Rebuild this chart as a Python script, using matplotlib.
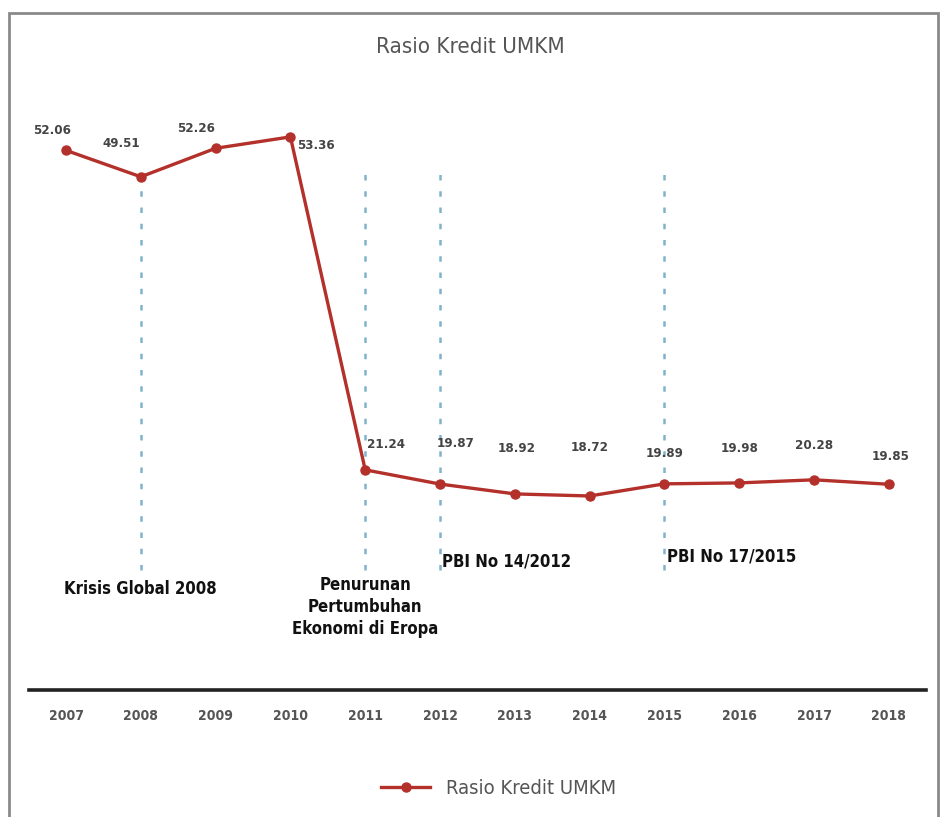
import matplotlib.pyplot as plt
from matplotlib.patches import Rectangle

# Data
years = ["2007", "2008", "2009", "2010", "2011", "2012",
         "2013", "2014", "2015", "2016", "2017", "2018"]
rasio = [52.06, 49.51, 52.26, 53.36, 21.24, 19.87,
         18.92, 18.72, 19.89, 19.98, 20.28, 19.85]

# Events marked with dashed vertical lines
event_years = ["2008", "2011", "2012", "2015"]
event_labels = ["Krisis Global 2008",
                "Penurunan\nPertumbuhan\nEkonomi di Eropa",
                "PBI No 14/2012",
                "PBI No 17/2015"]

# Label offsets in points (dx, dy)
label_offsets = [(-10, 14), (-14, 24), (-14, 14), (18, -6), (15, 18), (11, 29),
                 (1, 33), (0, 35), (0, 22), (0, 25), (0, 25), (1, 20)]

font = "DejaVu Sans"
cond = "condensed"
red = "#b3302b"

fig = plt.figure(figsize=(9.41, 8.17), dpi=100)
ax = fig.add_axes([0.0304, 0.1554, 0.9539, 0.7613])

x = list(range(len(years)))
ax.plot(x, rasio, color=red, linewidth=2.4, marker="o", markersize=6.5,
        label="Rasio Kredit UMKM", zorder=3)

for i, v in enumerate(rasio):
    dx, dy = label_offsets[i]
    ax.annotate(f"{v:.2f}", (i, v), xytext=(dx, dy), textcoords="offset points",
                ha="center", va="center", fontsize=9.5, fontweight="bold",
                color="#444444", family=font, fontstretch=cond)

# Event lines
for ey in event_years:
    i = years.index(ey)
    ax.vlines(i, 11.6, 50.1, colors="#7fb3cc", linestyles=(0, (2.2, 4.3)),
              linewidth=1.8, zorder=1)

txt = dict(fontsize=12, fontweight="bold", color="#111111", family=font,
           fontstretch=cond, va="center")
ax.text(1, 9.7, event_labels[0], ha="center", **txt)
ax.text(4, 8.0, event_labels[1], ha="center", linespacing=1.3, **txt)
ax.text(5.03, 12.4, event_labels[2], ha="left", **txt)
ax.text(8.03, 12.9, event_labels[3], ha="left", **txt)

ax.set_xlim(-0.5, 11.5)
ax.set_ylim(0, 60)
ax.set_xticks(x)
ax.set_xticklabels(years, fontsize=10, fontweight="bold", color="#555555",
                   family=font, fontstretch=cond)
ax.tick_params(axis="x", length=0, pad=14)
ax.set_yticks([])
for side in ["left", "right", "top"]:
    ax.spines[side].set_visible(False)
ax.spines["bottom"].set_linewidth(2.6)
ax.spines["bottom"].set_color("#222222")

fig.text(0.5, 0.942, "Rasio Kredit UMKM", ha="center", va="center",
         fontsize=16, color="#555555", family=font, fontstretch=cond)

fig.legend(loc="center", bbox_to_anchor=(0.530, 0.035), frameon=False,
           prop={"family": font, "stretch": cond, "size": 14.5},
           labelcolor="#555555", handlelength=2.4, handletextpad=0.8)

# Outer gray frame
fig.patches.append(Rectangle((9 / 941, -0.05), 929 / 941, 1.05 - 13 / 817,
                             transform=fig.transFigure, fill=False,
                             edgecolor="#8a8a8a", linewidth=2))

fig.savefig("out.png", dpi=100, facecolor="white")
